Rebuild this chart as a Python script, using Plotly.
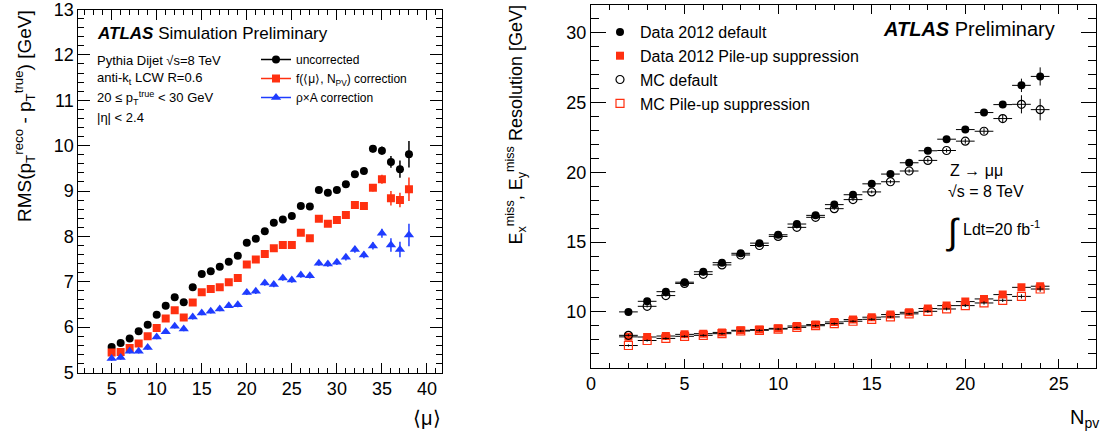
import plotly.graph_objects as go

# ---------------- Left panel data ----------------
mu = list(range(5, 39))
rms_uncorr = [5.56, 5.65, 5.75, 5.91, 6.05, 6.27, 6.47, 6.66, 6.55, 6.88,
              7.17, 7.23, 7.33, 7.44, 7.57, 7.86, 7.95, 8.11, 8.30, 8.37,
              8.45, 8.67, 8.66, 9.02, 8.96, 9.02, 9.15, 9.37, 9.44, 9.93,
              9.89, 9.64, 9.48, 9.81]
rms_uncorr_err = [0.05, 0.05, 0.05, 0.05, 0.05, 0.05, 0.05, 0.05, 0.05, 0.05,
                  0.05, 0.05, 0.05, 0.05, 0.05, 0.05, 0.06, 0.06, 0.06, 0.06,
                  0.06, 0.06, 0.06, 0.06, 0.06, 0.06, 0.07, 0.07, 0.07, 0.08,
                  0.09, 0.13, 0.19, 0.29]
rms_fcorr = [5.44, 5.45, 5.54, 5.64, 5.80, 5.98, 6.19, 6.37, 6.21, 6.54,
             6.77, 6.84, 6.88, 6.99, 7.08, 7.38, 7.49, 7.61, 7.74, 7.81,
             7.81, 8.08, 7.96, 8.39, 8.28, 8.36, 8.47, 8.69, 8.67, 9.07,
             9.26, 8.84, 8.80, 9.04]
rms_fcorr_err = [0.05, 0.05, 0.05, 0.05, 0.05, 0.05, 0.05, 0.05, 0.05, 0.05,
                 0.05, 0.05, 0.05, 0.05, 0.05, 0.05, 0.06, 0.06, 0.06, 0.06,
                 0.06, 0.06, 0.06, 0.06, 0.06, 0.06, 0.07, 0.07, 0.07, 0.08,
                 0.10, 0.16, 0.16, 0.26]
rms_rhoA = [5.31, 5.33, 5.47, 5.47, 5.55, 5.78, 5.90, 6.02, 5.96, 6.22,
            6.31, 6.35, 6.40, 6.47, 6.49, 6.76, 6.79, 6.97, 6.94, 7.08,
            7.04, 7.15, 7.13, 7.41, 7.39, 7.43, 7.54, 7.71, 7.59, 7.79,
            8.07, 7.81, 7.71, 8.03]
rms_rhoA_err = [0.05, 0.05, 0.05, 0.05, 0.05, 0.05, 0.05, 0.05, 0.05, 0.05,
                0.05, 0.05, 0.05, 0.05, 0.05, 0.05, 0.06, 0.06, 0.06, 0.06,
                0.06, 0.06, 0.06, 0.06, 0.06, 0.06, 0.07, 0.07, 0.07, 0.08,
                0.10, 0.15, 0.17, 0.25]

# ---------------- Right panel data ----------------
npv = list(range(2, 25))
data_default = [10.0, 10.76, 11.45, 12.13, 12.88, 13.53, 14.2, 14.93, 15.53, 16.3,
                16.92, 17.69, 18.4, 19.18, 19.88, 20.69, 21.55, 22.38, 23.07, 24.29,
                24.86, 26.24, 26.88]
data_default_err = [0.08, 0.08, 0.08, 0.08, 0.08, 0.08, 0.08, 0.08, 0.08, 0.08,
                    0.08, 0.08, 0.1, 0.1, 0.12, 0.15, 0.15, 0.18, 0.2, 0.22,
                    0.25, 0.48, 0.65]
data_pu = [8.21, 8.2, 8.27, 8.39, 8.44, 8.53, 8.68, 8.73, 8.82, 8.99,
           9.09, 9.28, 9.45, 9.62, 9.81, 9.97, 10.24, 10.45, 10.74, 10.93,
           11.24, 11.76, 11.84]
data_pu_err = [0.08, 0.08, 0.08, 0.08, 0.08, 0.08, 0.08, 0.08, 0.08, 0.08,
               0.08, 0.08, 0.08, 0.08, 0.08, 0.08, 0.1, 0.1, 0.1, 0.12,
               0.12, 0.15, 0.2]
mc_default = [8.32, 10.4, 11.17, 12.04, 12.69, 13.37, 14.08, 14.76, 15.41, 16.06,
              16.78, 17.4, 18.05, 18.6, 19.33, 20.1, 20.86, 21.57, 22.24, 22.95,
              23.86, 24.88, 24.5]
mc_default_err = [0.08, 0.08, 0.08, 0.08, 0.08, 0.08, 0.08, 0.08, 0.08, 0.08,
                  0.08, 0.08, 0.1, 0.1, 0.12, 0.12, 0.15, 0.15, 0.18, 0.22,
                  0.3, 0.65, 0.77]
mc_pu = [7.59, 7.95, 8.1, 8.25, 8.32, 8.44, 8.63, 8.68, 8.77, 8.89,
         9.01, 9.16, 9.33, 9.47, 9.64, 9.86, 10.04, 10.21, 10.45, 10.64,
         10.83, 11.11, 11.64]
mc_pu_err = [0.08, 0.08, 0.08, 0.08, 0.08, 0.08, 0.08, 0.08, 0.08, 0.08,
             0.08, 0.08, 0.08, 0.08, 0.08, 0.08, 0.1, 0.1, 0.1, 0.12,
             0.12, 0.15, 0.2]
npv_halfwidth = 0.5

BLACK = "#000000"
RED = "#ff3010"
BLUE = "#1f3cff"
FONT = "Liberation Sans, Arial, Helvetica, sans-serif"

W, H = 1103, 437


def px_x(p):
    return p / W


def px_y(p):
    return 1 - p / H


fig = go.Figure()

# ---- Left panel traces ----
for y, e, col, sym, sz in [
    (rms_uncorr, rms_uncorr_err, BLACK, "circle", 8),
    (rms_fcorr, rms_fcorr_err, RED, "square", 8),
    (rms_rhoA, rms_rhoA_err, BLUE, "triangle-up", 9),
]:
    fig.add_trace(go.Scatter(
        x=mu, y=y, mode="markers", showlegend=False,
        marker=dict(symbol=sym, size=sz, color=col, line=dict(width=0)),
        error_y=dict(type="data", array=e, width=0, thickness=1.5, color=col),
        xaxis="x", yaxis="y"))

# left legend entries (line + marker, as in the reference)
for name, col, sym, sz in [
    ("uncorrected", BLACK, "circle", 8),
    ("f(⟨μ⟩, N<sub>PV</sub>) correction", RED, "square", 8),
    ("ρ×A correction", BLUE, "triangle-up", 9),
]:
    fig.add_trace(go.Scatter(
        x=[None], y=[None], mode="lines+markers", name=name,
        line=dict(color=col, width=1.5),
        marker=dict(symbol=sym, size=sz, color=col),
        xaxis="x", yaxis="y", legend="legend"))

# ---- Right panel traces ----
fig.add_trace(go.Scatter(
    x=npv, y=data_default, mode="markers", name="Data 2012 default",
    marker=dict(symbol="circle", size=8, color=BLACK),
    error_y=dict(type="data", array=data_default_err, width=0, thickness=1, color=BLACK),
    error_x=dict(type="constant", value=npv_halfwidth, width=0, thickness=1, color=BLACK),
    xaxis="x2", yaxis="y2", legend="legend2"))
fig.add_trace(go.Scatter(
    x=npv, y=data_pu, mode="markers", name="Data 2012 Pile-up suppression",
    marker=dict(symbol="square", size=8, color=RED),
    error_y=dict(type="data", array=data_pu_err, width=0, thickness=1, color=BLACK),
    error_x=dict(type="constant", value=npv_halfwidth, width=0, thickness=1, color=BLACK),
    xaxis="x2", yaxis="y2", legend="legend2"))
fig.add_trace(go.Scatter(
    x=npv, y=mc_default, mode="markers", name="MC default",
    marker=dict(symbol="circle-open", size=8, color=BLACK, line=dict(width=1.2)),
    error_y=dict(type="data", array=mc_default_err, width=0, thickness=1, color=BLACK),
    error_x=dict(type="constant", value=npv_halfwidth, width=0, thickness=1, color=BLACK),
    xaxis="x2", yaxis="y2", legend="legend2"))
fig.add_trace(go.Scatter(
    x=npv, y=mc_pu, mode="markers", name="MC Pile-up suppression",
    marker=dict(symbol="square-open", size=8, color=RED, line=dict(width=1.2)),
    error_y=dict(type="data", array=mc_pu_err, width=0, thickness=1, color=BLACK),
    error_x=dict(type="constant", value=npv_halfwidth, width=0, thickness=1, color=BLACK),
    xaxis="x2", yaxis="y2", legend="legend2"))

axis_common = dict(showline=True, linecolor="black", linewidth=1, mirror="ticks",
                   ticks="inside", tickcolor="black", tickwidth=1,
                   showgrid=False, zeroline=False, automargin=False,
                   ticklabeloverflow="allow",
                   tickfont=dict(family=FONT, size=18, color="black"))

fig.update_layout(
    width=W, height=H,
    margin=dict(l=0, r=0, t=0, b=0),
    paper_bgcolor="white", plot_bgcolor="white",
    font=dict(family=FONT, color="black"),
    xaxis=dict(domain=[px_x(78.3), px_x(442.3)], range=[1.3, 41.7], anchor="y",
               dtick=5, tick0=0, ticklen=10,
               minor=dict(dtick=1, ticks="inside", ticklen=5, tickcolor="black"),
               **axis_common),
    yaxis=dict(domain=[px_y(372.5), px_y(9.5)], range=[4.999, 13.001], anchor="x",
               dtick=1, tick0=0, ticklen=12,
               minor=dict(dtick=0.2, ticks="inside", ticklen=6, tickcolor="black"),
               **axis_common),
    xaxis2=dict(domain=[px_x(591), px_x(1096.3)], range=[0, 27], anchor="y2",
                dtick=5, tick0=0, ticklen=9,
                minor=dict(dtick=1, ticks="inside", ticklen=5, tickcolor="black"),
                **axis_common),
    yaxis2=dict(domain=[px_y(367.7), px_y(5)], range=[6, 32], anchor="x2",
                dtick=5, tick0=0, ticklen=15,
                minor=dict(dtick=1, ticks="inside", ticklen=8, tickcolor="black"),
                **axis_common),
    legend=dict(x=px_x(256), y=px_y(45), xanchor="left", yanchor="top",
                bgcolor="rgba(0,0,0,0)", borderwidth=0,
                font=dict(family=FONT, size=12, color="black"),
                itemwidth=30, tracegroupgap=0),
    legend2=dict(x=px_x(600), y=px_y(15), xanchor="left", yanchor="top",
                 bgcolor="rgba(0,0,0,0)", borderwidth=0,
                 font=dict(family=FONT, size=16, color="black"),
                 itemwidth=30, tracegroupgap=0),
)

ann = []


def add_text(text, x, y, size, xanchor="left", yanchor="middle", angle=0):
    ann.append(dict(text=text, x=px_x(x), y=px_y(y), xref="paper", yref="paper",
                    xanchor=xanchor, yanchor=yanchor, showarrow=False, textangle=angle,
                    font=dict(family=FONT, size=size, color="black")))


# left panel texts
add_text("<b><i>ATLAS</i></b> Simulation Preliminary", 95, 34, 17)
add_text("Pythia Dijet √s=8 TeV", 95, 60, 13)
add_text("anti-k<sub>t</sub> LCW R=0.6", 95, 79, 13)
add_text("20 ≤ p<sub>T</sub><sup>true</sup> < 30 GeV", 95, 98, 13)
add_text("|η| < 2.4", 95, 117, 13)
# left axis titles
add_text("RMS(p<sub>T</sub><sup>reco</sup> - p<sub>T</sub><sup>true</sup>) [GeV]",
         24, 8, 19, xanchor="center", yanchor="top", angle=-90)
add_text("⟨μ⟩", 443, 418, 20, xanchor="right")

# right panel texts
add_text("<b><i>ATLAS</i></b> Preliminary", 1057, 29, 20, xanchor="right")
add_text("Z → μμ", 948, 171, 16)
add_text("√s = 8 TeV", 946, 192, 16)
add_text("∫", 953, 232, 36, xanchor="center")
add_text("Ldt=20 fb<sup>-1</sup>", 961, 228, 16)
add_text("E<sub>x</sub><sup>miss</sup>, E<sub>y</sub><sup>miss</sup> Resolution [GeV]",
         516, 4, 18, xanchor="center", yanchor="top", angle=-90)
add_text("N<sub>pv</sub>", 1068, 418, 20, xanchor="left")

fig.update_layout(annotations=ann)

fig.write_html(
    "out.html",
    config={"displayModeBar": False},
    post_script="document.body.style.margin='0';document.body.style.padding='0';"
                "document.body.style.overflow='hidden';",
)
